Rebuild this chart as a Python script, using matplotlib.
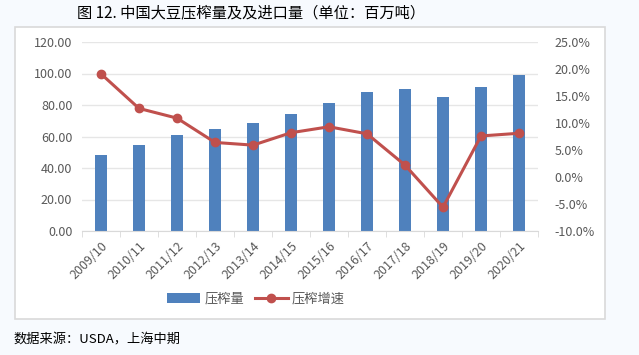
import matplotlib.pyplot as plt
import matplotlib.patches as mpatches
from matplotlib.ticker import FuncFormatter, MultipleLocator
import numpy as np

plt.rcParams['font.family'] = ['Noto Sans CJK SC', 'DejaVu Sans']

# 数据（百万吨 / 增速 %）
years = ['2009/10', '2010/11', '2011/12', '2012/13', '2013/14', '2014/15',
         '2015/16', '2016/17', '2017/18', '2018/19', '2019/20', '2020/21']
crush = [48.3, 54.6, 60.8, 65.0, 68.6, 74.5, 81.5, 88.0, 90.2, 85.1, 91.4, 99.2]
growth = [19.1, 12.7, 10.9, 6.4, 5.9, 8.2, 9.3, 8.0, 2.2, -5.6, 7.6, 8.1]

bar_color = '#4F81BD'
line_color = '#C0504D'
tick_color = '#595959'

fig = plt.figure(figsize=(6.39, 3.55), dpi=100)
fig.patch.set_facecolor('#F7FAFE')

# 图表外框
box = mpatches.Rectangle((15 / 639, 1 - 319 / 355), 590 / 639, 292 / 355,
                         transform=fig.transFigure, facecolor='white',
                         edgecolor='#D9D9D9', linewidth=1.2, zorder=-5)
fig.patches.append(box)

ax = fig.add_axes([82 / 639, 1 - 231 / 355, 456 / 639, 189 / 355])
ax.set_facecolor('none')
x = np.arange(len(years))
ax.bar(x, crush, width=0.31, color=bar_color, zorder=2, label='压榨量')
ax.set_ylim(0, 120)
ax.set_xlim(-0.5, len(years) - 0.5)
ax.yaxis.set_major_locator(MultipleLocator(20))
ax.yaxis.set_major_formatter(FuncFormatter(lambda v, p: f'{v:.2f}'))
ax.grid(axis='y', color='#E6E6E6', linewidth=1, zorder=0)
ax.set_xticks(x)
ax.set_xticklabels(years, rotation=45, ha='right', rotation_mode='anchor')
ax.set_xticks(np.arange(len(years) + 1) - 0.5, minor=True)
ax.tick_params(axis='x', which='major', length=0, colors=tick_color,
               labelsize=9, pad=6)
ax.tick_params(axis='x', which='minor', length=4, color='#D9D9D9')
ax.tick_params(axis='y', length=0, colors=tick_color, labelsize=9, pad=7)
for s in ['top', 'right', 'left']:
    ax.spines[s].set_visible(False)
ax.spines['bottom'].set_color('#D9D9D9')

ax2 = ax.twinx()
ax2.plot(x, growth, color=line_color, linewidth=2.2, marker='o',
         markersize=6, zorder=3, label='压榨增速')
ax2.set_ylim(-10, 25)
ax2.yaxis.set_major_locator(MultipleLocator(5))
ax2.yaxis.set_major_formatter(FuncFormatter(lambda v, p: f'{v:.1f}%'))
ax2.tick_params(axis='y', length=0, colors=tick_color, labelsize=9, pad=12)
for s in ['top', 'right', 'left', 'bottom']:
    ax2.spines[s].set_visible(False)

fig.text(251 / 639, 1 - 13 / 355, '图 12. 中国大豆压榨量及及进口量（单位：百万吨）',
         ha='center', va='center', fontsize=11, color='black')

h1, l1 = ax.get_legend_handles_labels()
h2, l2 = ax2.get_legend_handles_labels()
fig.legend(h1 + h2, l1 + l2, loc='center', bbox_to_anchor=(256 / 639, 1 - 299 / 355),
           ncol=2, frameon=False, fontsize=9.5, labelcolor=tick_color,
           handlelength=2.5, columnspacing=0.8, handletextpad=0.3)

fig.text(13 / 639, 1 - 340 / 355, '数据来源：USDA，上海中期', ha='left',
         va='center', fontsize=9.5, color='black')

fig.savefig('out.png', dpi=100, facecolor=fig.get_facecolor())
